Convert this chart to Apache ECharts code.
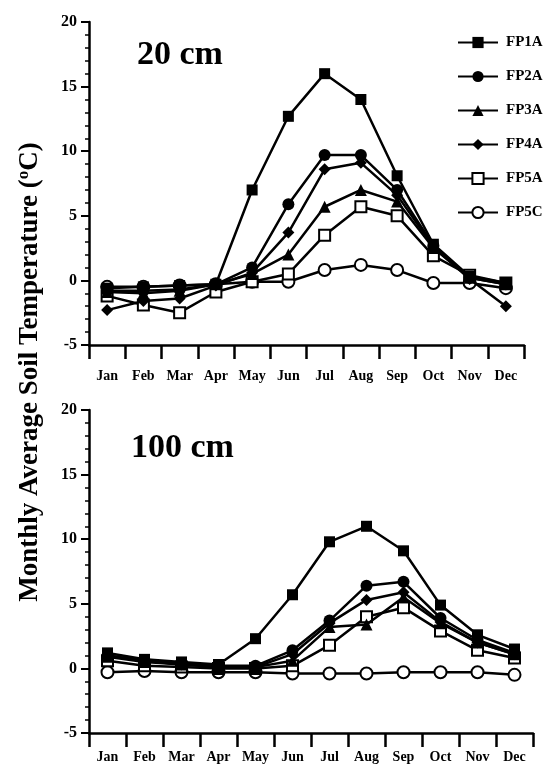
<!DOCTYPE html>
<html><head><meta charset="utf-8">
<script src="https://cdn.jsdelivr.net/npm/echarts@6/dist/echarts.min.js"></script>
<style>html,body{margin:0;padding:0;background:#fff}#c{width:555px;height:764px}</style>
</head><body><div id="c"></div>
<script>
const months = ['Jan','Feb','Mar','Apr','May','Jun','Jul','Aug','Sep','Oct','Nov','Dec'];
const seriesNames = ['FP1A','FP2A','FP3A','FP4A','FP5A','FP5C'];
const yTicks = [-5, 0, 5, 10, 15, 20];

// 20 cm depth
const fp1a20 = [-0.6,-0.5,-0.4,-0.3,7.0,12.7,16.0,14.0,8.1,2.8,0.3,-0.2];
const fp2a20 = [-0.8,-0.8,-0.7,-0.3,1.0,5.9,9.7,9.7,7.0,2.7,0.2,-0.3];
const fp3a20 = [-0.9,-1.0,-0.8,-0.3,0.5,2.0,5.7,7.0,6.1,2.5,0.2,-0.3];
const fp4a20 = [-2.3,-1.6,-1.4,-0.4,0.6,3.7,8.6,9.1,6.6,2.6,0.1,-2.0];
const fp5a20 = [-1.2,-1.9,-2.5,-0.9,-0.1,0.5,3.5,5.7,5.0,1.9,0.4,-0.2];
const fp5c20 = [-0.5,-0.5,-0.4,-0.3,-0.1,-0.1,0.8,1.2,0.8,-0.2,-0.2,-0.6];

// 100 cm depth
const fp1a100 = [1.2,0.7,0.5,0.3,2.3,5.7,9.8,11.0,9.1,4.9,2.6,1.5];
const fp2a100 = [1.0,0.6,0.4,0.2,0.2,1.4,3.7,6.4,6.7,3.9,2.2,1.2];
const fp3a100 = [0.9,0.5,0.3,0.1,0.1,0.6,3.2,3.4,5.5,3.5,2.0,1.1];
const fp4a100 = [1.0,0.6,0.3,0.1,0.1,1.1,3.5,5.3,5.9,3.6,2.0,1.1];
const fp5a100 = [0.6,0.2,0.1,0.0,0.0,0.2,1.8,4.0,4.7,2.9,1.4,0.8];
const fp5c100 = [-0.3,-0.2,-0.3,-0.3,-0.3,-0.4,-0.4,-0.4,-0.3,-0.3,-0.3,-0.5];

const data20 = [fp1a20, fp2a20, fp3a20, fp4a20, fp5a20, fp5c20];
const data100 = [fp1a100, fp2a100, fp3a100, fp4a100, fp5a100, fp5c100];

const FONT = '"Liberation Serif","Times New Roman",serif';
const symbols = [
  {symbol:'rect', size:11, fill:'#000'},
  {symbol:'circle', size:12, fill:'#000'},
  {symbol:'triangle', size:12, fill:'#000'},
  {symbol:'diamond', size:12, fill:'#000'},
  {symbol:'rect', size:11, fill:'#fff'},
  {symbol:'circle', size:12, fill:'#fff'}
];

function xAxis(gi, margin){
  return {
    type:'category', gridIndex:gi, data:months, boundaryGap:true,
    axisLine:{show:true, onZero:false, lineStyle:{color:'#000', width:2.5}},
    axisTick:{show:true, inside:false, length:14, interval:0, lineStyle:{color:'#000', width:2.5}},
    axisLabel:{interval:0, margin:margin, color:'#000', fontFamily:FONT, fontWeight:'bold', fontSize:14},
    splitLine:{show:false}
  };
}
function yAxis(gi){
  return {
    type:'value', gridIndex:gi, min:yTicks[0], max:yTicks[yTicks.length-1], interval:5,
    axisLine:{show:true, onZero:false, lineStyle:{color:'#000', width:2.5}},
    axisTick:{show:true, inside:false, length:8, lineStyle:{color:'#000', width:2}},
    minorTick:{show:true, splitNumber:5, length:4, lineStyle:{color:'#000', width:1.5}},
    axisLabel:{margin:12, color:'#000', fontFamily:FONT, fontWeight:'bold', fontSize:16,
      formatter:v=>String(v)},
    splitLine:{show:false}, minorSplitLine:{show:false}
  };
}

const series = [];
[data20, data100].forEach((set, gi)=>{
  set.forEach((vals, i)=>{
    series.push({
      name:seriesNames[i], type:'line', xAxisIndex:gi, yAxisIndex:gi, data:vals,
      symbol:symbols[i].symbol, symbolSize:symbols[i].size, showAllSymbol:true,
      lineStyle:{color:'#000', width:2.5},
      itemStyle:{color:symbols[i].fill, borderColor:'#000', borderWidth:symbols[i].fill==='#fff'?2:0},
      z: 10 - i, animation:false
    });
  });
});

const chart = echarts.init(document.getElementById('c'), null, {renderer:'canvas'});
chart.setOption({
  animation:false,
  backgroundColor:'#fff',
  grid:[
    {left:89, top:22, width:435, height:323},
    {left:89, top:410, width:444, height:324}
  ],
  xAxis:[xAxis(0, 24), xAxis(1, 17)],
  yAxis:[yAxis(0), yAxis(1)],
  legend:{
    orient:'vertical', left:452, top:30, itemWidth:40, itemHeight:14, itemGap:19,
    data:seriesNames,
    textStyle:{color:'#000', fontFamily:FONT, fontWeight:'bold', fontSize:15, padding:[0,0,0,3]}
  },
  graphic:[
    {type:'text', x:137, y:55, style:{text:'20 cm', fill:'#000', font:'bold 34px '+FONT, verticalAlign:'middle'}},
    {type:'text', x:131, y:448, style:{text:'100 cm', fill:'#000', font:'bold 34px '+FONT, verticalAlign:'middle'}},
    {type:'text', x:30, y:372, rotation:Math.PI/2,
      style:{text:'Monthly Average Soil Temperature ({s|o}C)', fill:'#000', font:'bold 27px '+FONT,
        align:'center', verticalAlign:'middle',
        rich:{s:{fontSize:17, fontWeight:'bold', fontFamily:FONT, verticalAlign:'top', padding:[0,0,12,0]}}}}
  ],
  series:series
});
</script></body></html>
